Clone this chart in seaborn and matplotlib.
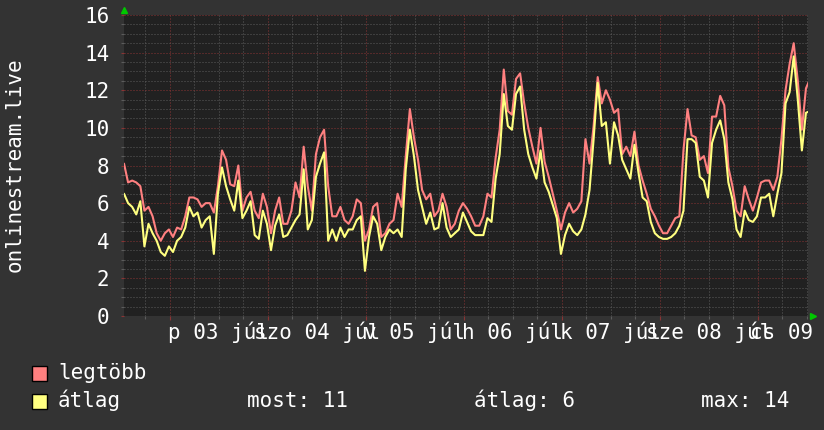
import pandas as pd
import seaborn as sns
import matplotlib.pyplot as plt
import matplotlib.dates as mdates
from matplotlib.ticker import MultipleLocator, FuncFormatter, NullFormatter
from matplotlib.patches import Rectangle

# oránkénti értékek, 2015-07-02 12:45-től
legtobb = [
    8.1, 7.1, 7.2, 7.1, 6.9, 5.6, 5.8, 5.3, 4.4, 4.0,
    4.4, 4.6, 4.2, 4.7, 4.6, 5.3, 6.3, 6.3, 6.2, 5.8,
    6.0, 6.0, 5.5, 6.9, 8.8, 8.3, 7.0, 6.9,
    8.0, 5.6, 6.3, 6.6, 5.6, 5.2, 6.5, 5.8, 4.4, 5.6,
    6.3, 4.9, 4.9, 5.6, 7.1, 6.3, 9.0, 6.9, 5.6, 8.6,
    9.5, 9.9, 6.9, 5.3, 5.3, 5.8, 5.1, 4.9,
    5.3, 6.2, 6.0, 4.0, 4.6, 5.8, 6.0, 4.2, 4.4, 4.9,
    5.1, 6.5, 5.8, 8.5, 11.0, 9.5, 8.3, 6.7, 6.2, 6.5,
    5.3, 5.6, 6.5, 5.8, 4.6, 4.9, 5.6, 6.0,
    5.7, 5.3, 4.8, 4.8, 5.3, 6.5, 6.3, 8.4, 9.9, 13.1,
    10.9, 10.7, 12.6, 12.9, 11.3, 10.0, 9.0, 8.1, 10.0, 8.2,
    7.4, 6.5, 5.6, 4.6, 5.5, 6.0, 5.5, 5.7,
    6.1, 9.4, 8.1, 10.1, 12.7, 11.3, 12.0, 11.5, 10.8, 11.0,
    8.6, 9.0, 8.5, 9.8, 8.0, 7.2, 6.5, 5.7, 5.3, 4.8,
    4.4, 4.4, 4.8, 5.2, 5.3, 8.8, 11.0, 9.6,
    9.5, 8.3, 8.5, 7.6, 10.6, 10.6, 11.7, 11.2, 7.9, 6.9,
    5.6, 5.3, 6.9, 6.2, 5.6, 6.3, 7.1, 7.2, 7.2, 6.7,
    7.4, 9.4, 12.0, 13.4, 14.5, 12.5, 9.9, 12.1, 12.6,
]
atlag = [
    6.5, 6.0, 5.8, 5.4, 6.1, 3.7, 4.9, 4.4, 4.0, 3.4,
    3.2, 3.7, 3.4, 4.0, 4.2, 4.7, 5.8, 5.3, 5.5, 4.7,
    5.1, 5.3, 3.3, 6.5, 7.9, 6.9, 6.2, 5.6,
    7.2, 5.2, 5.6, 6.1, 4.3, 4.1, 5.6, 4.9, 3.5, 4.8,
    5.4, 4.2, 4.3, 4.7, 5.1, 5.4, 7.8, 4.6, 5.1, 7.4,
    8.1, 8.7, 4.0, 4.6, 4.0, 4.7, 4.2, 4.6,
    4.6, 5.1, 5.3, 2.4, 4.2, 5.3, 4.9, 3.5, 4.2, 4.6,
    4.4, 4.6, 4.2, 7.8, 9.9, 8.5, 6.7, 5.8, 4.9, 5.5,
    4.6, 4.7, 6.0, 4.7, 4.2, 4.4, 4.6, 5.5,
    5.0, 4.5, 4.3, 4.3, 4.3, 5.2, 5.0, 7.3, 8.6, 11.8,
    10.1, 9.9, 11.8, 12.2, 9.9, 8.6, 7.9, 7.3, 8.8, 7.1,
    6.6, 5.9, 5.2, 3.3, 4.3, 4.9, 4.5, 4.3,
    4.6, 5.4, 6.7, 9.4, 12.4, 10.1, 10.3, 8.1, 10.3, 9.6,
    8.3, 7.8, 7.3, 9.1, 7.6, 6.3, 6.1, 5.0, 4.4, 4.2,
    4.1, 4.1, 4.2, 4.4, 4.8, 5.6, 9.4, 9.4,
    9.2, 7.4, 7.2, 6.3, 9.2, 9.9, 10.4, 9.4, 7.1, 6.2,
    4.6, 4.2, 5.6, 5.1, 5.0, 5.3, 6.3, 6.3, 6.5, 5.3,
    6.5, 7.6, 11.3, 11.9, 13.8, 11.5, 8.8, 10.8, 10.9,
]
kezdet = pd.Timestamp('2015-07-02 12:45')
napok = ['h', 'k', 'sze', 'cs', 'p', 'szo', 'v']
most, atl, maxi = 11, 6, 14

BG = '#333333'
PLOT_BG = '#212121'
MAJ = '#8a3434'
MIN = '#5c5c5c'
RED = '#ff8080'
YEL = '#ffff80'
GREEN = '#00c800'

df = pd.DataFrame({
    'ido': pd.date_range(kezdet, periods=len(atlag), freq='h'),
    'legtöbb': legtobb,
    'átlag': atlag,
})

sns.set_theme(style='dark')
plt.rcParams['font.family'] = ['DejaVu Sans Mono']

fig = plt.figure(figsize=(8.24, 4.30), dpi=100, facecolor=BG)
ax = fig.add_axes([124 / 824, 1 - 316 / 430, 684 / 824, 301 / 430])
ax.set_facecolor(PLOT_BG)

sns.lineplot(data=df, x='ido', y='legtöbb', color=RED, lw=1.5, ax=ax)
sns.lineplot(data=df, x='ido', y='átlag', color=YEL, lw=1.5, ax=ax)

ax.set_xlim(kezdet, kezdet + pd.Timedelta(hours=167.5))
ax.set_ylim(0, 16)
ax.set_xlabel('')
ax.set_ylabel('')


def nap_cimke(x, pos):
    if abs((x % 1) - 0.5) > 1e-3:
        return ''
    d = mdates.num2date(x)
    return f'{napok[d.weekday()]} {d.day:02d} júl'


ax.xaxis.set_major_locator(mdates.DayLocator())
ax.xaxis.set_major_formatter(NullFormatter())
ax.xaxis.set_minor_locator(mdates.HourLocator(byhour=[6, 12, 18]))
ax.xaxis.set_minor_formatter(FuncFormatter(nap_cimke))
ax.yaxis.set_major_locator(MultipleLocator(2))
ax.yaxis.set_minor_locator(MultipleLocator(0.5))

ax.set_axisbelow(True)
ax.grid(which='minor', color=MIN, linestyle=(0, (1, 2)), lw=0.72)
ax.grid(which='major', color=MAJ, linestyle=(0, (1, 2)), lw=0.72)

ax.tick_params(axis='x', which='major', bottom=True, length=3, width=0.8, color=MAJ)
ax.tick_params(axis='x', which='minor', bottom=True, length=2, width=0.8, color=MIN,
               labelsize=15, labelcolor='white', pad=2)
ax.tick_params(axis='y', which='major', left=True, length=2, width=0.8, color=MAJ,
               labelsize=15, labelcolor='white', pad=8.5)
ax.tick_params(axis='y', which='minor', left=True, length=2, width=0.8, color=MIN)
for s in ax.spines.values():
    s.set_visible(False)

# zöld nyilak a tengelyek végén
ax.plot(0.0, 1 + 5 / 301, marker='^', ms=5, color=GREEN, transform=ax.transAxes, clip_on=False)
ax.plot(1 + 5 / 684, 0.0, marker='>', ms=5, color=GREEN, transform=ax.transAxes, clip_on=False)

fig.text(15 / 824, 1 - 165 / 430, 'onlinestream.live', rotation=90, ha='center', va='center',
         color='white', fontsize=15)

# jelmagyarázat
for y0, c in [(366, RED), (394, YEL)]:
    fig.patches.append(Rectangle((32 / 824, 1 - (y0 + 15) / 430), 15 / 824, 15 / 430,
                                 transform=fig.transFigure, facecolor=c, edgecolor='black', lw=1))
fig.text(58 / 824, 1 - 379 / 430, 'legtöbb', color='white', fontsize=15, va='baseline')
fig.text(58 / 824, 1 - 407 / 430, 'átlag', color='white', fontsize=15, va='baseline')
fig.text(247 / 824, 1 - 407 / 430, f'most: {most}', color='white', fontsize=15, va='baseline')
fig.text(474 / 824, 1 - 407 / 430, f'átlag: {atl}', color='white', fontsize=15, va='baseline')
fig.text(701 / 824, 1 - 407 / 430, f'max: {maxi}', color='white', fontsize=15, va='baseline')

fig.savefig('out.png', dpi=100, facecolor=BG)
